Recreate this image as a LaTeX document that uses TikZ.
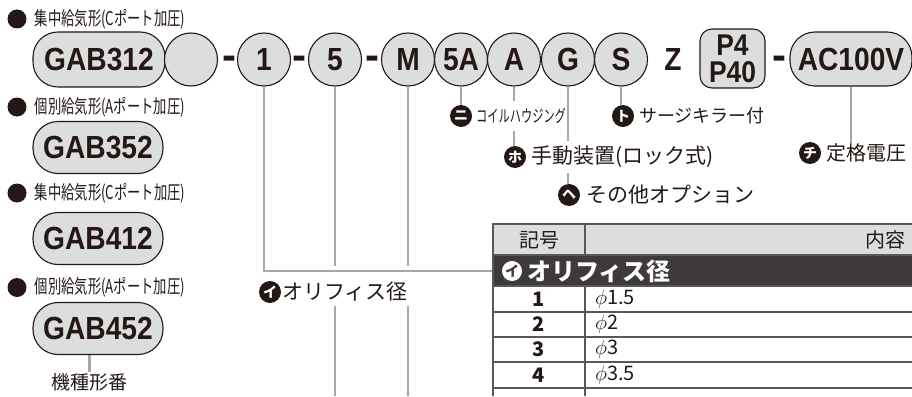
\documentclass[tikz,border=0pt]{standalone}
\usepackage{fontspec}
\usepackage{graphicx}
\setmainfont{Liberation Sans}
\newfontfamily\cond{Liberation Sans}[FakeStretch=0.88]
\newfontfamily\jp{Noto Sans CJK JP}
\usetikzlibrary{positioning,calc,backgrounds}
\definecolor{ink}{RGB}{35,24,21}
\definecolor{pale}{RGB}{220,221,221}
\definecolor{lead}{RGB}{167,167,167}
\definecolor{rim}{RGB}{89,87,87}
\definecolor{bandfill}{RGB}{62,58,57}
\newcommand{\fsz}[1]{\fontsize{#1}{#1}\selectfont}

\begin{document}
\begin{tikzpicture}[x=1pt,y=-1pt,
  ring/.style={circle,draw=ink,fill=pale,line width=1.1pt,minimum size=53pt,inner sep=0pt,text=ink,font=\cond\bfseries\fsz{32}},
  pill/.style={draw=ink,fill=pale,line width=1.1pt,rounded corners=25pt,inner sep=0pt,text=ink,font=\cond\bfseries\fsz{32}},
  plain/.style={inner sep=0pt,text=ink,font=\cond\bfseries\fsz{32}},
  hyph/.style={inner sep=0pt,anchor=base,text=ink,font=\bfseries\fsz{42}},
  dot/.style={circle,fill=ink,minimum size=19pt,inner sep=0pt},
  kind/.style={inner sep=1pt,text=ink,font=\jp\fsz{19}},
  badge/.style={circle,fill=ink,text=white,minimum size=22pt,inner sep=0pt,font=\jp\bfseries\fsz{14}},
  note/.style={inner sep=1pt,text=ink,font=\jp\fsz{21}},
  lead/.style={draw=lead,line width=2.2pt},
  rule/.style={draw=rim,line width=1.4pt},
  frame/.style={draw=rim,line width=2.4pt}]
  \clip (0,0) rectangle (912,396);

  % model number row
  \node[pill,minimum width=132pt,minimum height=55pt] (gab312) at (99,59.5) {GAB312};
  \node[ring] (blank) at (191,59.5) {};
  \node[hyph] (h1) at (229,70) {-};
  \node[ring] (c1) at (264,59.5) {1};
  \node[hyph] (h2) at (299,70) {-};
  \node[ring] (c5) at (335,59.5) {5};
  \node[hyph] (h3) at (372,70) {-};
  \node[ring] (cM) at (408,59.5) {M};
  \node[ring] (c5A) at (461,59.5) {5A};
  \node[ring] (cA) at (514,59.5) {A};
  \node[ring] (cG) at (568,59.5) {G};
  \node[ring] (cS) at (621,59.5) {S};
  \node[plain] (z) at (673,59.5) {Z};
  \node[draw=ink,fill=pale,line width=1.1pt,rounded corners=12pt,minimum width=65pt,minimum height=59pt,inner sep=0pt,
        align=center,text=ink,font=\cond\bfseries\fontsize{30}{27}\selectfont] (port) at (732.5,58.5) {P4\\P40};
  \node[hyph] (h4) at (779,70) {-};
  \node[pill,minimum width=122pt,minimum height=54pt] (ac) at (851,59) {AC100V};

  % series on the left
  \node[dot] (b1) at (17,19) {};
  \node[kind,right=7pt of b1] (k1) {\scalebox{0.7}[1]{集中給気形(Cポート加圧)}};
  \node[dot] (b2) at (17,107) {};
  \node[kind,right=7pt of b2] (k2) {\scalebox{0.7}[1]{個別給気形(Aポート加圧)}};
  \node[pill,minimum width=130pt,minimum height=52pt] (gab352) at (98,147.5) {GAB352};
  \node[dot] (b3) at (17,193) {};
  \node[kind,right=7pt of b3] (k3) {\scalebox{0.7}[1]{集中給気形(Cポート加圧)}};
  \node[pill,minimum width=130pt,minimum height=52pt] (gab412) at (98,238.5) {GAB412};
  \node[dot] (b4) at (17,287.5) {};
  \node[kind,right=7pt of b4] (k4) {\scalebox{0.7}[1]{個別給気形(Aポート加圧)}};
  \node[pill,minimum width=130pt,minimum height=52pt] (gab452) at (98,328.5) {GAB452};
  \node[note,font=\jp\fsz{19}] (kishu) at (89.5,382) {機種形番};

  % option callouts
  \node[badge] (bNi) at (461,116) {ニ};
  \node[note,font=\jp\fsz{17},fill=white,minimum height=30pt,anchor=west] (tNi) at (475,116) {\scalebox{0.66}[1]{コイルハウジング}};
  \node[badge] (bTo) at (623,116) {ト};
  \node[note,font=\jp\fsz{18},anchor=west] (tTo) at (638,116) {サージキラー付};
  \node[badge] (bHo) at (515,157) {ホ};
  \node[note,fill=white,minimum height=32pt,anchor=west] (tHo) at (530,157) {手動装置(ロック式)};
  \node[badge] (bHe) at (569,195) {ヘ};
  \node[note,anchor=west] (tHe) at (585,195) {その他オプション};
  \node[badge] (bChi) at (810,153) {チ};
  \node[note,font=\jp\fsz{20},anchor=west] (tChi) at (825,153) {定格電圧};
  \node[badge] (bI) at (270,292) {イ};
  \node[note,anchor=west] (tI) at (281,292) {オリフィス径};

  % table
  \fill[pale] (493,224) rectangle (920,255);
  \node[note,font=\jp\fsz{20}] (hKey) at (539,240) {記号};
  \node[note,font=\jp\fsz{20}] (hVal) at (885,240) {内容};
  \node[fill=bandfill,minimum width=430pt,minimum height=31pt,inner sep=0pt,anchor=north west] (band) at (493,255) {};
  \node[badge,fill=white,text=bandfill,minimum size=20pt] (bI2) at (512,271) {イ};
  \node[anchor=west,inner sep=0pt,text=white,font=\jp\bfseries\fsz{24}] (tI2) at (527,271) {オリフィス径};
  \foreach \y in {255,286,312,337,362,388} \draw[rule] (493,\y) -- (920,\y);
  \draw[rule] (585,224) -- (585,255);
  \draw[rule] (585,286) -- (585,396);
  \draw[frame] (493,396) -- (493,224) -- (920,224);
  \foreach \k/\v/\y in {1/1.5/299,2/2/324.5,3/3/349.5,4/3.5/375} {
    \node[note,font=\jp\bfseries\fsz{20}] (n\k) at (539,\y) {\k};
    \node[note,font=\jp\fsz{20},anchor=west] (v\k) at (594,\y) {$\phi$\v};
  }

  % leader lines
  \coordinate (gapTop) at (0,266);
  \coordinate (gapEnd) at (0,306);
  \coordinate (floor) at (0,396);
  \begin{scope}[on background layer]
    \draw[lead] (c1.south) |- (band.west);
    \foreach \n in {c5,cM} {
      \draw[lead] (\n.south) -- (\n.south |- gapTop);
      \draw[lead] (\n.south |- gapEnd) -- (\n.south |- floor);
    }
    \draw[lead] (c5A.south) -- (c5A.south |- bNi.north);
    \draw[lead] (cA.south) -- (cA.south |- bHo.north);
    \draw[lead] (cG.south) -- (cG.south |- bHe.north);
    \draw[lead] (cS.south) -- (cS.south |- bTo.north);
    \draw[lead] (ac.south) -- (ac.south |- tChi.north);
    \draw[lead] (kishu.north |- gab452.south) -- (kishu.north);
  \end{scope}
\end{tikzpicture}
\end{document}
